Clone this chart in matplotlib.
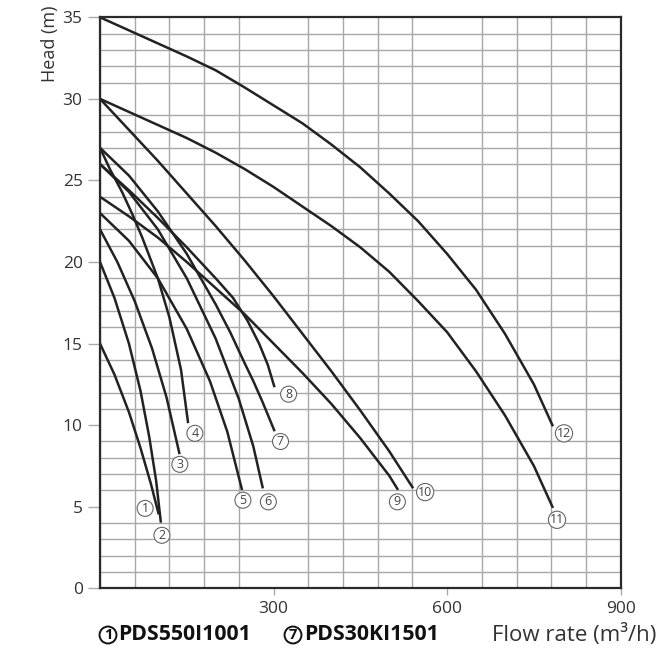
import numpy as np
import matplotlib.pyplot as plt

plt.rcParams['font.family'] = ['Open Sans', 'DejaVu Sans']

# pump curves: flow (m3/h), head (m)
q1 = [0, 25, 50, 70, 88, 101]
h1 = [15, 13.1, 10.8, 8.6, 6.4, 4.6]
q2 = [0, 25, 50, 70, 85, 97, 105]
h2 = [20, 17.8, 15.0, 12.1, 9.3, 6.6, 4.1]
q3 = [0, 30, 60, 90, 115, 137]
h3 = [22, 20.0, 17.6, 14.7, 11.7, 8.3]
q4 = [0, 17, 38, 55, 73, 100, 120, 140, 152]
h4 = [27, 25.7, 24.3, 23.0, 21.5, 19.0, 16.6, 13.4, 10.2]
q5 = [0, 50, 100, 150, 190, 220, 245]
h5 = [23, 21.3, 19.0, 15.9, 12.7, 9.6, 6.1]
q6 = [0, 50, 100, 150, 200, 240, 265, 281]
h6 = [26, 24.3, 22.0, 19.0, 15.3, 11.6, 8.7, 6.2]
q7 = [0, 50, 100, 150, 200, 225, 250, 265, 280, 301]
h7 = [27, 25.3, 23.1, 20.5, 17.4, 15.7, 13.8, 12.7, 11.5, 9.7]
q8 = [0, 50, 100, 150, 200, 230, 255, 275, 290, 301]
h8 = [26, 24.4, 22.7, 20.9, 19.0, 17.8, 16.4, 15.0, 13.7, 12.4]
q9 = [0, 50, 100, 150, 200, 250, 300, 350, 400, 450, 500, 514]
h9 = [24, 22.8, 21.5, 20.0, 18.4, 16.8, 15.0, 13.2, 11.3, 9.2, 6.9, 6.1]
q10 = [0, 50, 100, 150, 200, 250, 300, 350, 400, 450, 500, 540]
h10 = [30, 28.1, 26.2, 24.2, 22.2, 20.1, 17.9, 15.6, 13.3, 10.9, 8.4, 6.2]
q11 = [0, 50, 100, 150, 200, 250, 300, 350, 400, 450, 500, 550, 600, 650,
       700, 750, 782]
h11 = [30, 29.2, 28.4, 27.6, 26.7, 25.7, 24.6, 23.4, 22.2, 20.9, 19.4, 17.6,
       15.7, 13.3, 10.6, 7.5, 5.0]
q12 = [0, 50, 100, 150, 200, 250, 300, 350, 400, 450, 500, 550, 600, 650,
       700, 750, 782]
h12 = [35, 34.2, 33.4, 32.6, 31.75, 30.7, 29.6, 28.5, 27.2, 25.8, 24.2, 22.5,
       20.5, 18.3, 15.6, 12.5, 10.0]

curves = [(q1, h1), (q2, h2), (q3, h3), (q4, h4), (q5, h5), (q6, h6),
          (q7, h7), (q8, h8), (q9, h9), (q10, h10), (q11, h11), (q12, h12)]

label_names = ['1', '2', '3', '4', '5', '6', '7', '8', '9', '10', '11', '12']
label_q = [78, 107, 138, 164, 247, 291, 312, 326, 514, 562, 790, 802]
label_h = [4.9, 3.25, 7.6, 9.5, 5.4, 5.3, 9.0, 11.9, 5.3, 5.9, 4.2, 9.5]

x_ticks = [300, 600, 900]
y_ticks = [0, 5, 10, 15, 20, 25, 30, 35]

fig = plt.figure(figsize=(6.61, 6.48), dpi=100)
ax = fig.add_axes([0.1513, 0.0921, 0.7877, 0.8812])

ax.set_xlim(0, 900)
ax.set_ylim(0, 35)

# grid
ax.set_xticks(np.arange(0, 901, 60), minor=True)
ax.set_yticks(np.arange(0, 36, 1), minor=True)
ax.grid(which='minor', color='#a8a8a8', lw=1.0)
ax.set_axisbelow(True)
ax.tick_params(which='minor', length=0)

ax.set_xticks(x_ticks)
ax.set_yticks(y_ticks)
ax.tick_params(axis='y', which='major', direction='out', length=8.5, width=1.0,
               color='#aaaaaa', labelsize=12.5, labelcolor='#333333', pad=4)
ax.tick_params(axis='x', which='major', direction='out', length=5, width=1.0,
               color='#aaaaaa', labelsize=12.5, labelcolor='#333333', pad=4)

for s in ax.spines.values():
    s.set_color('#2a2a2a')
    s.set_linewidth(1.6)

for q, h in curves:
    ax.plot(q, h, color='#222222', lw=1.8, solid_joinstyle='round')

for name, q, h in zip(label_names, label_q, label_h):
    ax.text(q, h, name, ha='center', va='center', fontsize=9, color='#444444',
            bbox=dict(boxstyle='circle,pad=0.12', fc='white', ec='#666666', lw=0.8))

fig.text(50 / 661, 1 - 5 / 648, 'Head (m)', rotation=90, ha='center', va='top',
         fontsize=13, color='#333333')

yb = 1 - 635 / 648
fig.text(108 / 661, yb, '1', ha='center', va='center', fontsize=10.5,
         fontweight='bold', color='#111111',
         bbox=dict(boxstyle='circle,pad=0.1', fc='white', ec='#111111', lw=1.4))
fig.text(118 / 661, yb, 'PDS550I1001', ha='left', va='center',
         fontsize=15.3, fontweight='bold', color='#111111')
fig.text(293 / 661, yb, '7', ha='center', va='center', fontsize=10.5,
         fontweight='bold', color='#111111',
         bbox=dict(boxstyle='circle,pad=0.1', fc='white', ec='#111111', lw=1.4))
fig.text(304 / 661, yb, 'PDS30KI1501', ha='left', va='center',
         fontsize=15.3, fontweight='bold', color='#111111')
fig.text(656 / 661, yb, 'Flow rate (m³/h)', ha='right', va='center',
         fontsize=16, color='#333333')

fig.savefig('out.png', dpi=100)
